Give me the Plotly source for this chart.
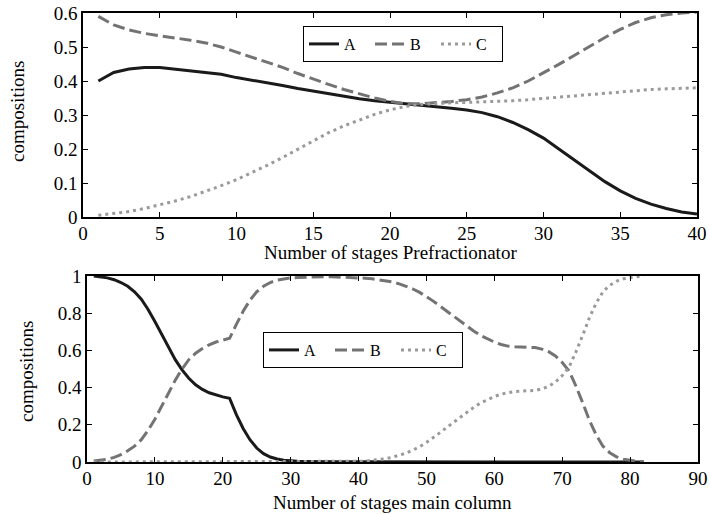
import plotly.graph_objects as go

# ---------- Prefractionator (top) ----------
pre_stages = list(range(1, 41))
pre_A = [0.400, 0.425, 0.435, 0.440, 0.440, 0.435, 0.432, 0.425, 0.420, 0.410,
         0.403, 0.396, 0.387, 0.378, 0.370, 0.363, 0.356, 0.348, 0.342, 0.338,
         0.334, 0.330, 0.326, 0.320, 0.315, 0.307, 0.295, 0.278, 0.257, 0.232,
         0.200, 0.168, 0.135, 0.104, 0.077, 0.055, 0.038, 0.025, 0.015, 0.009]
pre_B = [0.590, 0.565, 0.550, 0.540, 0.533, 0.527, 0.520, 0.512, 0.500, 0.485,
         0.470, 0.455, 0.440, 0.422, 0.405, 0.390, 0.375, 0.362, 0.350, 0.340,
         0.333, 0.333, 0.336, 0.340, 0.345, 0.353, 0.365, 0.380, 0.400, 0.424,
         0.449, 0.475, 0.502, 0.528, 0.552, 0.572, 0.586, 0.595, 0.600, 0.603]
pre_C = [0.005, 0.010, 0.016, 0.025, 0.035, 0.047, 0.060, 0.075, 0.092, 0.110,
         0.130, 0.152, 0.175, 0.200, 0.225, 0.248, 0.268, 0.286, 0.302, 0.315,
         0.325, 0.331, 0.334, 0.336, 0.337, 0.338, 0.340, 0.342, 0.345, 0.349,
         0.353, 0.357, 0.361, 0.365, 0.369, 0.372, 0.375, 0.377, 0.378, 0.380]

# ---------- Main column (bottom) ----------
main_stages = list(range(1, 83))
main_A = [1.000, 0.995, 0.990, 0.980, 0.965, 0.945, 0.915, 0.875, 0.820, 0.755,
          0.685, 0.615, 0.550, 0.495, 0.450, 0.415, 0.390, 0.372, 0.360, 0.350,
          0.343, 0.255, 0.180, 0.120, 0.075, 0.045, 0.027, 0.016, 0.010, 0.006,
          0.004, 0.003, 0.002, 0.0015, 0.001, 0.001, 0.001, 0.001, 0.001, 0.001,
          0.001, 0.001, 0.001, 0.001, 0.001, 0.001, 0.001, 0.001, 0.001, 0.001,
          0.001, 0.001, 0.0, 0.0, 0.0, 0.0, 0.0, 0.0, 0.0, 0.0,
          0.0, 0.0, 0.0, 0.0, 0.0, 0.0, 0.0, 0.0, 0.0, 0.0,
          0.0, 0.0, 0.0, 0.0, 0.0, 0.0, 0.0, 0.0, 0.0, 0.0,
          0.0, 0.0]
main_B = [0.005, 0.010, 0.015, 0.025, 0.040, 0.060, 0.085, 0.120, 0.170, 0.230,
          0.300, 0.370, 0.440, 0.500, 0.550, 0.585, 0.610, 0.630, 0.645, 0.655,
          0.665, 0.740, 0.810, 0.870, 0.915, 0.945, 0.965, 0.978, 0.985, 0.990,
          0.992, 0.994, 0.995, 0.996, 0.996, 0.996, 0.995, 0.994, 0.992, 0.990,
          0.988, 0.985, 0.980, 0.975, 0.968, 0.958, 0.945, 0.930, 0.912, 0.890,
          0.865, 0.838, 0.810, 0.782, 0.755, 0.728, 0.703, 0.680, 0.662, 0.645,
          0.632, 0.623, 0.620, 0.619, 0.618, 0.615, 0.607, 0.593, 0.570, 0.535,
          0.490, 0.410, 0.320, 0.225, 0.145, 0.085, 0.050, 0.028, 0.015, 0.008,
          0.004, 0.002]
main_C = [0.0, 0.0, 0.0, 0.0, 0.0, 0.0, 0.0, 0.0, 0.0, 0.0,
          0.0, 0.0, 0.0, 0.0, 0.0, 0.0, 0.0, 0.0, 0.0, 0.0,
          0.0, 0.0, 0.0, 0.0, 0.0, 0.0, 0.0, 0.0, 0.0, 0.0,
          0.001, 0.001, 0.001, 0.001, 0.002, 0.002, 0.002, 0.003, 0.003, 0.004,
          0.005, 0.008, 0.012, 0.018, 0.026, 0.036, 0.048, 0.064, 0.082, 0.105,
          0.130, 0.158, 0.186, 0.214, 0.242, 0.270, 0.295, 0.318, 0.336, 0.352,
          0.365, 0.374, 0.379, 0.381, 0.382, 0.385, 0.393, 0.407, 0.430, 0.465,
          0.510, 0.590, 0.680, 0.775, 0.855, 0.915, 0.950, 0.972, 0.985, 0.992,
          0.996, 0.998]

pre_xticks = [0, 5, 10, 15, 20, 25, 30, 35, 40]
pre_yticks = [0, 0.1, 0.2, 0.3, 0.4, 0.5, 0.6]
pre_ylabels = ["0", "0.1", "0.2", "0.3", "0.4", "0.5", "0.6"]
main_xticks = [0, 10, 20, 30, 40, 50, 60, 70, 80, 90]
main_yticks = [0, 0.2, 0.4, 0.6, 0.8, 1]
main_ylabels = ["0", "0.2", "0.4", "0.6", "0.8", "1"]

FONT = "Liberation Serif"
FS = 19
LFS = 16
styles = {
    "A": dict(color="#1a1a1a", width=3, dash="solid"),
    "B": dict(color="#737373", width=3, dash="12px,5px"),
    "C": dict(color="#9a9a9a", width=3, dash="3px,4px"),
}

fig = go.Figure()
for name, ys in (("A", pre_A), ("B", pre_B), ("C", pre_C)):
    fig.add_trace(go.Scatter(x=pre_stages, y=ys, mode="lines", name=name,
                             line=styles[name], xaxis="x", yaxis="y",
                             legend="legend"))
for name, ys in (("A", main_A), ("B", main_B), ("C", main_C)):
    fig.add_trace(go.Scatter(x=main_stages, y=ys, mode="lines", name=name,
                             line=styles[name], xaxis="x2", yaxis="y2",
                             legend="legend2"))

W, H = 710, 514
axis_common = dict(showline=True, linecolor="black", linewidth=1.5, mirror="ticks",
                   ticks="inside", ticklen=5, tickwidth=1, tickcolor="black",
                   showgrid=False, zeroline=False, automargin=False,
                   tickfont=dict(family=FONT, size=FS, color="black"))
legend_common = dict(orientation="h", xanchor="left", yanchor="middle",
                     bgcolor="white", bordercolor="black", borderwidth=1,
                     font=dict(family=FONT, size=LFS), entrywidth=21,
                     tracegroupgap=0, itemclick=False, itemdoubleclick=False)

fig.update_layout(
    width=W, height=H,
    margin=dict(l=0, r=0, t=0, b=0, pad=0, autoexpand=False),
    paper_bgcolor="white", plot_bgcolor="white",
    font=dict(family=FONT, size=FS, color="black"),
    xaxis=dict(domain=[83 / W, 697 / W], range=[0, 40], tickvals=pre_xticks,
               anchor="y", ticklabelstandoff=-2, **axis_common),
    yaxis=dict(domain=[1 - 217 / H, 1 - 13 / H], range=[0, 0.6],
               tickvals=pre_yticks, ticktext=pre_ylabels, anchor="x", **axis_common),
    xaxis2=dict(domain=[87 / W, 698 / W], range=[0, 90], tickvals=main_xticks,
                anchor="y2", ticklabelstandoff=-2, **axis_common),
    yaxis2=dict(domain=[1 - 462 / H, 1 - 276 / H], range=[0, 1],
                tickvals=main_yticks, ticktext=main_ylabels, anchor="x2", **axis_common),
    legend=dict(x=303 / W, y=1 - 44 / H, **legend_common),
    legend2=dict(x=263 / W, y=1 - 350 / H, **legend_common),
    annotations=[
        dict(text="Number of stages Prefractionator", x=390 / W, y=1 - 252 / H,
             xanchor="center", yanchor="middle",
             xref="paper", yref="paper", showarrow=False, font=dict(size=FS)),
        dict(text="Number of stages main column", x=392 / W, y=1 - 502 / H,
             xanchor="center", yanchor="middle",
             xref="paper", yref="paper", showarrow=False, font=dict(size=FS)),
        dict(text="compositions", x=17 / W, y=1 - 112 / H, textangle=-90,
             xanchor="center", yanchor="middle",
             xref="paper", yref="paper", showarrow=False, font=dict(size=FS)),
        dict(text="compositions", x=26 / W, y=1 - 372 / H, textangle=-90,
             xanchor="center", yanchor="middle",
             xref="paper", yref="paper", showarrow=False, font=dict(size=FS)),
    ],
)

fig.write_html("out.html", config={"displayModeBar": False},
               post_script="document.body.style.margin='0px';"
                           "document.body.style.overflow='hidden';")
